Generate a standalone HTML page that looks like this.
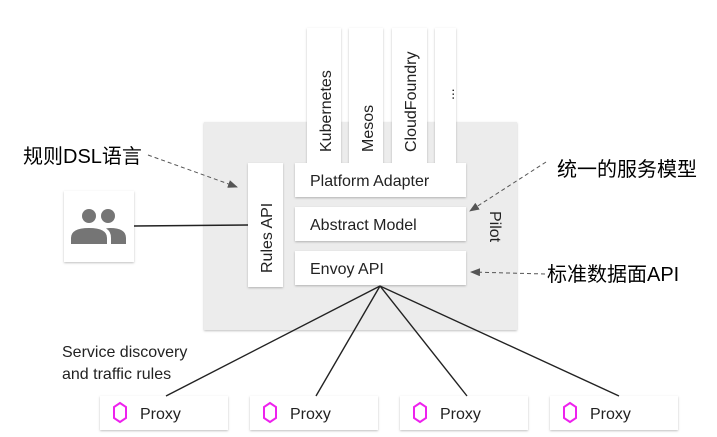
<!DOCTYPE html>
<html><head><meta charset="utf-8"><style>
body{margin:0;background:#fff;}
svg{display:block;font-family:"Liberation Sans","Noto Sans CJK SC",sans-serif;}
</style></head><body>
<svg width="717" height="437" viewBox="0 0 717 437" xmlns="http://www.w3.org/2000/svg">
<defs>
<filter id="sh" x="-10%" y="-10%" width="130%" height="140%"><feDropShadow dx="0" dy="1" stdDeviation="1" flood-color="#000" flood-opacity="0.25"/></filter>
<marker id="ar" markerWidth="10" markerHeight="8" refX="9" refY="4" orient="auto" markerUnits="userSpaceOnUse"><path d="M0,0 L10,4 L0,8 z" fill="#555"/></marker>
</defs>
<rect x="204" y="122" width="313" height="208" fill="#ececec" filter="url(#sh)"/>
<g fill="#fff" filter="url(#sh)">
<rect x="307" y="28" width="34" height="137"/>
<rect x="349" y="28" width="34" height="137"/>
<rect x="392" y="28" width="35" height="137"/>
<rect x="435" y="28" width="21" height="137"/>
<rect x="248" y="163" width="35" height="124"/>
<rect x="295" y="163" width="171" height="34"/>
<rect x="295" y="207" width="171" height="34"/>
<rect x="295" y="251" width="171" height="34"/>
<rect x="64" y="191" width="70" height="71"/>
<rect x="100" y="396" width="128" height="34"/>
<rect x="250" y="396" width="128" height="34"/>
<rect x="400" y="396" width="128" height="34"/>
<rect x="550" y="396" width="128" height="34"/>
</g>
<g font-size="16" fill="#222">
<text transform="translate(331,152) rotate(-90)">Kubernetes</text>
<text transform="translate(373,152) rotate(-90)">Mesos</text>
<text transform="translate(416,152) rotate(-90)">CloudFoundry</text>
<text transform="translate(454,100) rotate(-90)" font-size="14">...</text>
<text transform="translate(272,273) rotate(-90)">Rules API</text>
<text x="310" y="186">Platform Adapter</text>
<text x="310" y="230">Abstract Model</text>
<text x="310" y="274">Envoy API</text>
<text transform="translate(490,211) rotate(90)">Pilot</text>
<text x="140" y="419">Proxy</text>
<text x="290" y="419">Proxy</text>
<text x="440" y="419">Proxy</text>
<text x="590" y="419">Proxy</text>
</g>
<g font-size="16" fill="#222">
<text x="62" y="357">Service discovery</text>
<text x="62" y="379">and traffic rules</text>
</g>
<g font-size="20" fill="#000">
<text x="23" y="163">规则DSL语言</text>
<text x="557" y="176">统一的服务模型</text>
<text x="547" y="281">标准数据面API</text>
</g>
<g fill="none" stroke="#ee22ee" stroke-width="2">
<path d="M120,403 l6,4 v11 l-6,4 l-6,-4 v-11 z"/>
<path d="M270,403 l6,4 v11 l-6,4 l-6,-4 v-11 z"/>
<path d="M420,403 l6,4 v11 l-6,4 l-6,-4 v-11 z"/>
<path d="M570,403 l6,4 v11 l-6,4 l-6,-4 v-11 z"/>
</g>
<g fill="#757575">
<circle cx="89" cy="216" r="7"/>
<circle cx="108" cy="216" r="7"/>
<path d="M71,244 v-6 q0,-10 18,-10 q18,0 18,10 v6 z"/>
<path d="M111,244 v-6 q0,-7 -5,-9.5 q2,-0.5 4,-0.5 q16,0 16,10 v6 z"/>
</g>
<g stroke="#222" stroke-width="1.4" fill="none">
<line x1="134" y1="226" x2="248" y2="225"/>
<line x1="380" y1="286" x2="166" y2="396"/>
<line x1="380" y1="286" x2="316" y2="396"/>
<line x1="380" y1="286" x2="467" y2="396"/>
<line x1="380" y1="286" x2="619" y2="396"/>
</g>
<g stroke="#555" stroke-width="1" stroke-dasharray="4,3" fill="none" marker-end="url(#ar)">
<line x1="148" y1="155" x2="237" y2="187"/>
<line x1="546" y1="162" x2="470" y2="211"/>
<line x1="545" y1="274" x2="471" y2="272"/>
</g>
</svg>
</body></html>
